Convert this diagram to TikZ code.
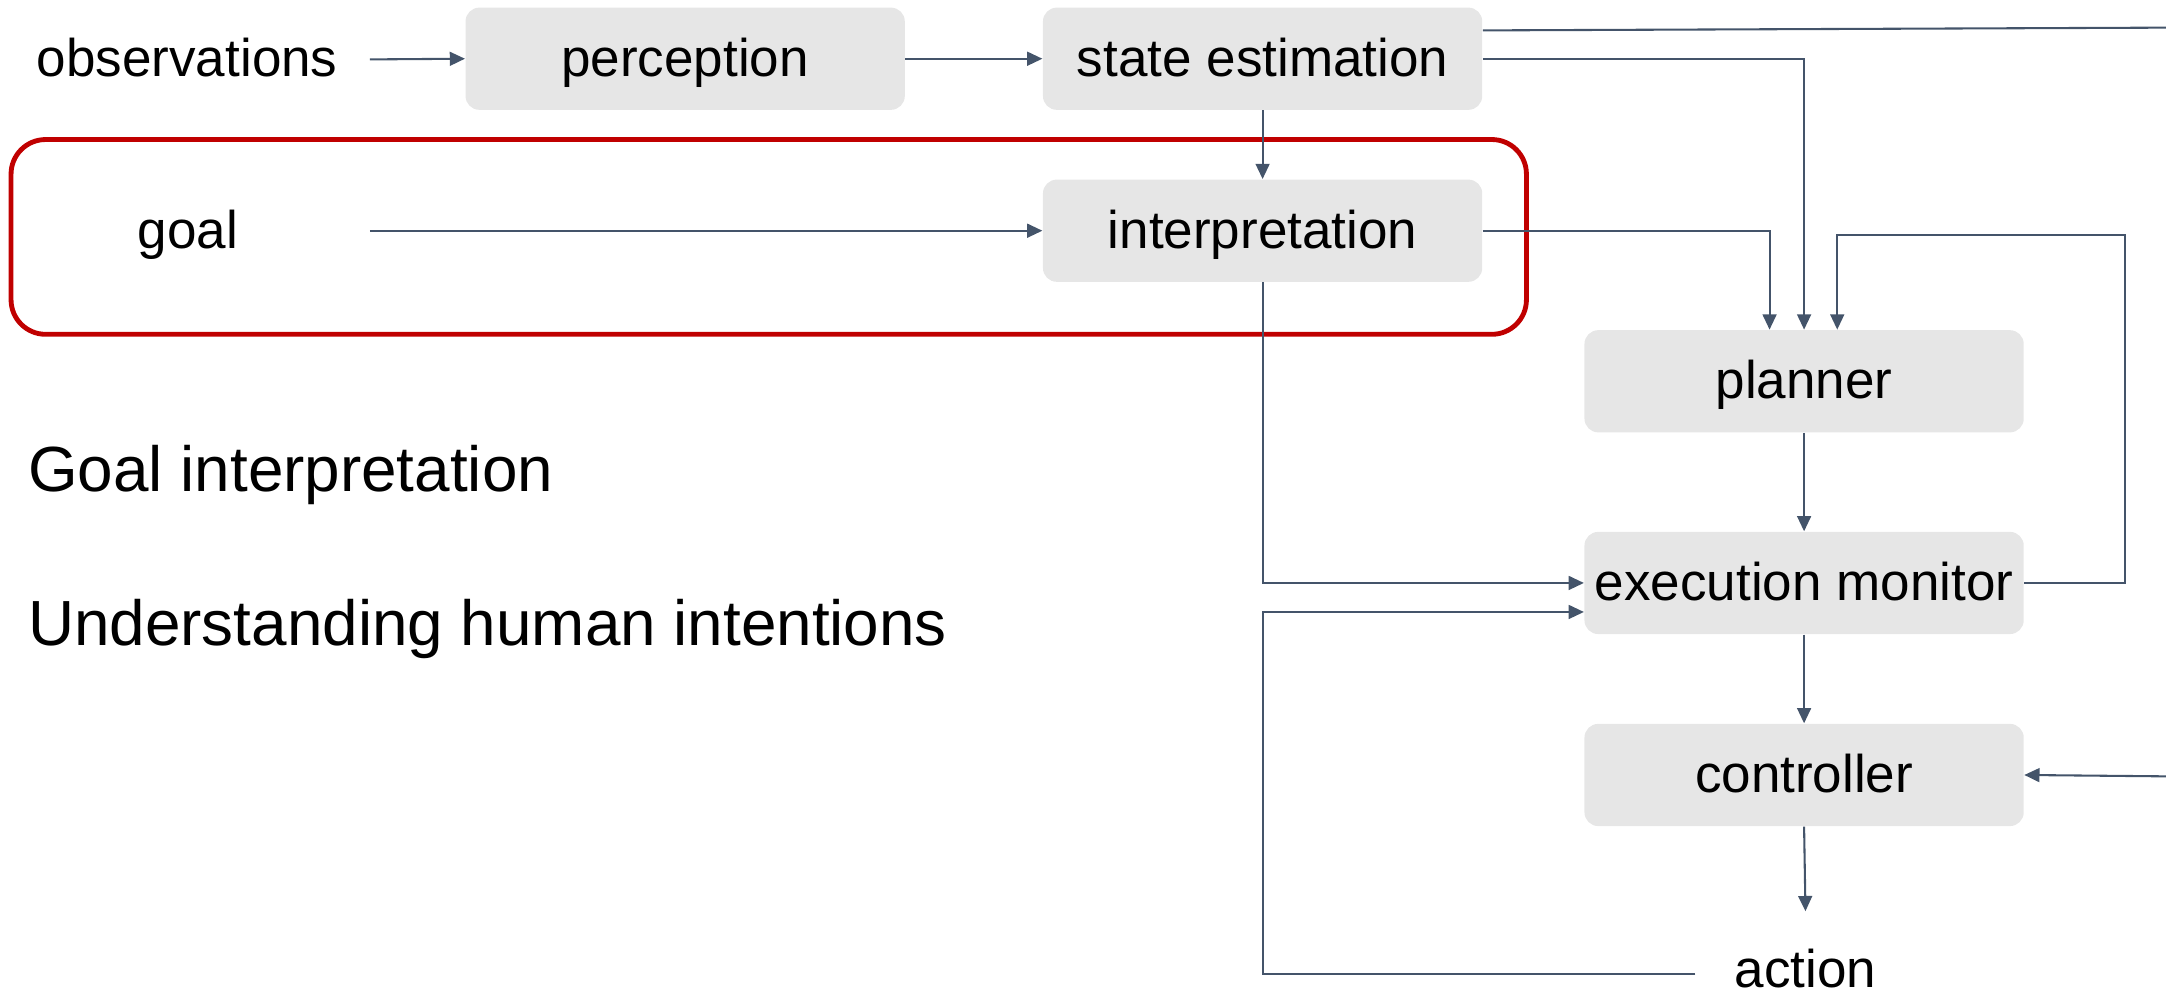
\documentclass[tikz,border=0pt]{standalone}
\usepackage{fontspec}
\setmainfont{Liberation Sans}
\usetikzlibrary{arrows.meta}
\definecolor{boxgray}{HTML}{E6E6E6}
\definecolor{linkcol}{HTML}{44546A}
\definecolor{framered}{HTML}{C00000}

\begin{document}
\begin{tikzpicture}[x=0.5pt,y=-0.5pt,
  blk/.style={fill=boxgray, rounded corners=5pt, minimum width=159pt,
    minimum height=37pt, inner sep=0pt, font=\fontsize{19.2}{23}\selectfont,
    text height=14pt, text depth=1.3pt},
  lbl/.style={inner sep=0pt, font=\fontsize{19.2}{23}\selectfont,
    text height=14pt, text depth=1.3pt},
  headline/.style={inner sep=0pt, anchor=west, font=\fontsize{23.1}{28}\selectfont,
    text height=17pt, text depth=1.5pt},
  link/.style={draw=linkcol, line width=0.75pt, -{Triangle[length=5.5pt,width=5pt]}},
  wire/.style={draw=linkcol, line width=0.75pt},
]
\useasboundingbox (0,0) rectangle (1568,720);

% highlighted goal-interpretation stage
\draw[framered, line width=1.75pt, rounded corners=12.5pt] (8,101) rectangle (1105,242);

% processing blocks
\node[blk] (perc)   at (496,42.5)  {perception};
\node[blk] (se)     at (914,42.5)  {state estimation};
\node[blk] (interp) at (914,167)   {interpretation};
\node[blk] (plan)   at (1306,276)  {planner};
\node[blk] (exec)   at (1306,422)  {execution monitor};
\node[blk] (ctrl)   at (1306,561)  {controller};

% inputs and output
\node[lbl] (obs)  at (135.5,43) {observations};
\node[lbl] (goal) at (136,167)  {goal};
\node[lbl] (act)  at (1307,702) {action};

% captions
\node[headline] (gi)  at (20,340) {Goal interpretation};
\node[headline] (uhi) at (20,452) {Understanding human intentions};

% loose ends leaving the right border
\coordinate (outR) at (1568,20);
\coordinate (inR)  at (1568,562);

% connectors
\draw[link] (obs.east) ++(23,0) -- (perc.west);
\draw[link] (perc.east) -- (se.west);
\draw[link] (goal.east) ++(95,0) -- (interp.west);
\draw[link] (se.south) -- (interp.north);
\draw[wire] (se.east) ++(0,-20.5) -- (outR);
\draw[link] (se.east) -| (plan.north);
\draw[link] (interp.east) -| ([xshift=-12.5pt]plan.north);
\draw[link] (exec.east) -- ++(73,0) -- ++(0,-252) -| ([xshift=12pt]plan.north);
\draw[link] (plan.south) -- (exec.north);
\draw[link] (interp.south) |- (exec.west);
\draw[link] (act.west) ++(-28,3) -- ++(-313,0) |- ([yshift=-10.5pt]exec.west);
\draw[link] (exec.south) -- (ctrl.north);
\draw[link] (ctrl.south) -- ([yshift=13.35pt]act.north);
\draw[link] (inR) -- (ctrl.east);
\end{tikzpicture}
\end{document}
